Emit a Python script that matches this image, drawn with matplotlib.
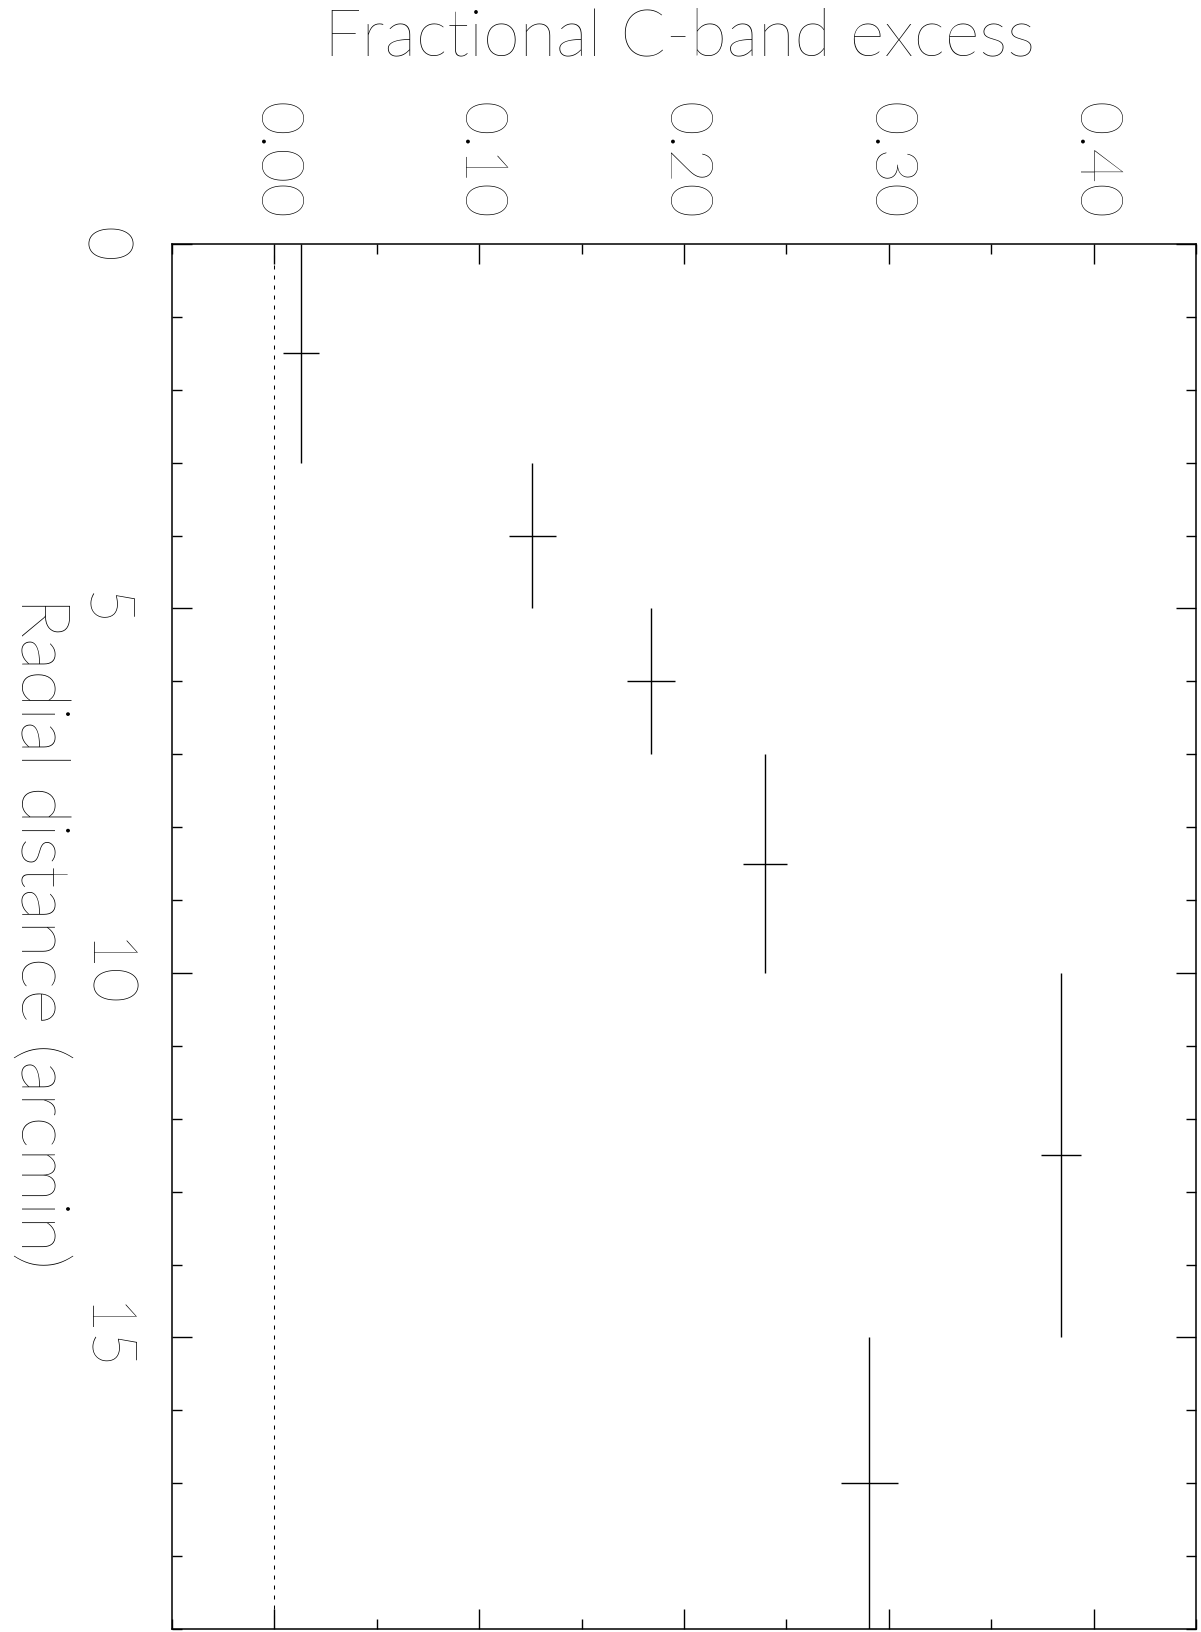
import matplotlib
matplotlib.use("Agg")
import matplotlib.pyplot as plt
from matplotlib.ticker import MultipleLocator, FormatStrFormatter

# Data: radial bins (arcmin) and fractional C-band excess
r_lo = [0, 3, 5, 7, 10, 15]
r_hi = [3, 5, 7, 10, 15, 19]
r_mid = [1.5, 4.0, 6.0, 8.5, 12.5, 17.0]
excess = [0.013, 0.126, 0.184, 0.2395, 0.384, 0.2905]
excess_err = [0.0087, 0.0114, 0.0116, 0.0107, 0.0097, 0.0139]

xlim = (-0.05, 0.45)
ylim = (19, 0)

plt.rcParams['font.family'] = ['Lato', 'DejaVu Sans']
plt.rcParams['font.weight'] = 'light'

W, H = 1201, 1633
fig = plt.figure(figsize=(W / 100, H / 100), dpi=100)
ax = fig.add_axes([172 / W, 1 - 1630 / H, (1196 - 172) / W, (1630 - 245) / H])

yerr = [[m - lo for m, lo in zip(r_mid, r_lo)], [hi - m for m, hi in zip(r_mid, r_hi)]]
ax.errorbar(excess, r_mid, xerr=excess_err, yerr=yerr, fmt='none',
            ecolor='black', elinewidth=1.0, capsize=0)
ax.axvline(0, color='black', lw=0.75, dashes=(3.8, 5.8))

ax.set_xlim(*xlim)
ax.set_ylim(*ylim)

ax.xaxis.set_major_locator(MultipleLocator(0.1))
ax.xaxis.set_minor_locator(MultipleLocator(0.05))
ax.xaxis.set_major_formatter(FormatStrFormatter('%.2f'))
ax.yaxis.set_major_locator(MultipleLocator(5))
ax.yaxis.set_minor_locator(MultipleLocator(1))

ax.xaxis.tick_top()
ax.tick_params(which='both', direction='in', top=True, bottom=True, left=True, right=True,
               labeltop=True, labelbottom=False, labelleft=True, labelright=False,
               width=1.0, color='black', labelcolor='black')
ax.tick_params(which='major', length=14.4)
ax.tick_params(which='minor', length=7.2)
ax.tick_params(axis='x', which='major', labelsize=43, pad=18, labelrotation=-90)
ax.tick_params(axis='y', which='major', labelsize=44, pad=30, labelrotation=-90)
for lab in ax.get_yticklabels():
    lab.set_verticalalignment('center')
for s in ax.spines.values():
    s.set_linewidth(1.1)

fig.text(680 / W, 1 - 38 / H, 'Fractional C-band excess', fontsize=48,
         ha='center', va='center', color='black')
fig.text(40 / W, 1 - 933 / H, 'Radial distance (arcmin)', fontsize=49,
         ha='center', va='center', rotation=-90, color='black')

fig.savefig('out.png', dpi=100)
